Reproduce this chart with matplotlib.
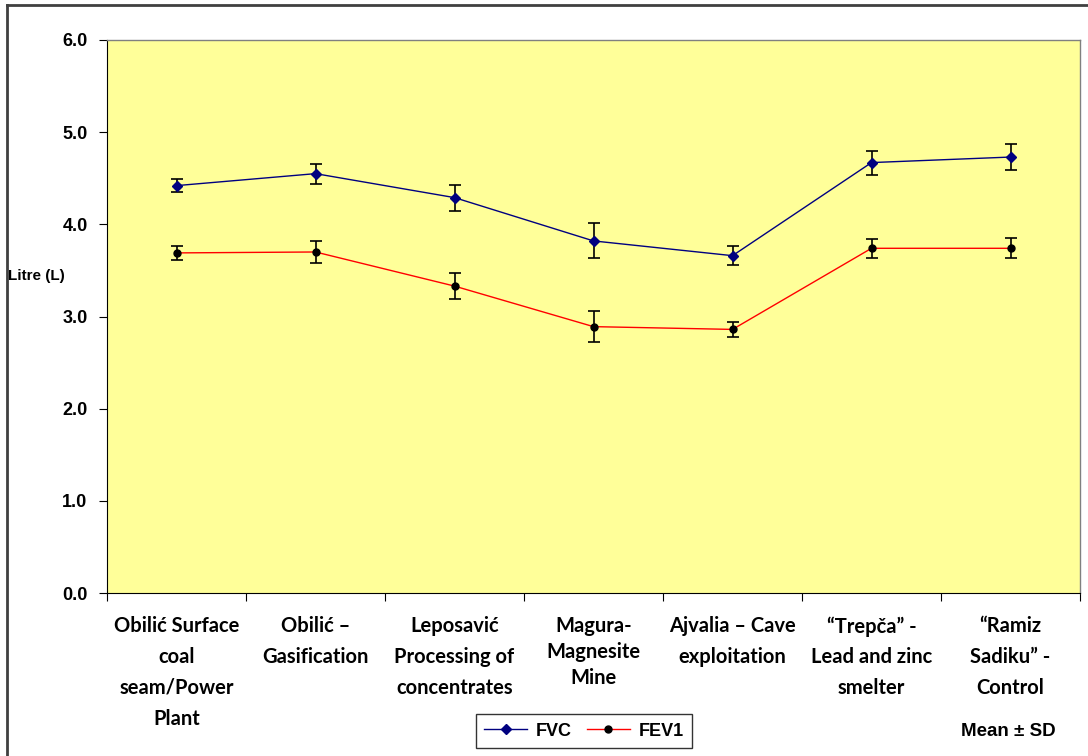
import matplotlib
matplotlib.use("Agg")
import matplotlib.pyplot as plt
from matplotlib.lines import Line2D
import numpy as np

# data
sites = ["Obilić Surface\ncoal\nseam/Power\nPlant",
         "Obilić –\nGasification",
         "Leposavić\nProcessing of\nconcentrates",
         "Magura-\nMagnesite\nMine",
         "Ajvalia – Cave\nexploitation",
         "“Trepča” -\nLead and zinc\nsmelter",
         "“Ramiz\nSadiku” -\nControl"]
fvc_mean = [4.42, 4.55, 4.29, 3.82, 3.66, 4.67, 4.73]
fvc_sd = [0.07, 0.11, 0.14, 0.19, 0.10, 0.13, 0.14]
fev1_mean = [3.69, 3.70, 3.33, 2.89, 2.86, 3.74, 3.74]
fev1_sd = [0.08, 0.12, 0.14, 0.17, 0.08, 0.10, 0.11]
yticks = [0.0, 1.0, 2.0, 3.0, 4.0, 5.0, 6.0]

fig = plt.figure(figsize=(10.88, 7.56), dpi=100)
ax = fig.add_axes([107/1088, 1 - 593/756, (1080 - 107)/1088, (593 - 40)/756])
ax.set_facecolor("#ffff99")

x = np.arange(len(sites))

# error bars first, then lines on top
ax.errorbar(x, fvc_mean, yerr=fvc_sd, fmt="none", ecolor="black",
            elinewidth=1.2, capsize=4.5, capthick=1.2, zorder=2)
ax.errorbar(x, fev1_mean, yerr=fev1_sd, fmt="none", ecolor="black",
            elinewidth=1.2, capsize=4.5, capthick=1.2, zorder=2)
ax.plot(x, fvc_mean, color="#000080", lw=1, marker="D", ms=5,
        mfc="#000080", mec="#000080", label="FVC", zorder=3)
ax.plot(x, fev1_mean, color="#ff0000", lw=1, marker="o", ms=5,
        mfc="black", mec="black", label="FEV1", zorder=3)

ax.set_xlim(-0.5, len(sites) - 0.5)
ax.set_ylim(0, 6)
ax.set_yticks(yticks)
ax.set_yticklabels([f"{v:.1f}" for v in yticks], fontsize=13,
                   fontweight="bold", family="Liberation Sans")

# category labels centred, boundary ticks
ax.set_xticks(np.arange(len(sites) + 1) - 0.5)
ax.set_xticklabels([])
ax.tick_params(axis="x", direction="out", length=6, width=0.8)
ax.tick_params(axis="y", direction="out", length=6, width=0.8, pad=8)
for i, s in enumerate(sites):
    ls = 1.38 if s.startswith("Magura") else 1.68
    ax.text(i, -0.25, s, ha="center", va="top", fontsize=14.5,
            fontweight="bold", family="Lato", linespacing=ls,
            transform=ax.transData, clip_on=False)

for side in ["top", "right"]:
    ax.spines[side].set_color("#808080")
    ax.spines[side].set_linewidth(1)
for side in ["left", "bottom"]:
    ax.spines[side].set_color("black")

fig.text(8/1088, 1 - 276/756, "Litre (L)", fontsize=11, fontweight="bold",
         family="Liberation Sans", va="center", ha="left")

leg = fig.legend(loc="center", bbox_to_anchor=(584/1088, 1 - 731/756),
                 ncol=2, frameon=True, fancybox=False, edgecolor="black",
                 prop={"family": "Liberation Sans", "weight": "bold", "size": 13},
                 handlelength=2.4, columnspacing=0.8, handletextpad=0.5,
                 borderpad=0.45)
leg.get_frame().set_linewidth(1)

fig.text(1008/1088, 1 - 731/756, "Mean ± SD", fontsize=13.5, fontweight="bold",
         family="Liberation Sans", ha="center", va="center")

# outer chart frame
fig.add_artist(Line2D([7/1088, 7/1088], [0, 1 - 5/756], color="#404040", lw=2,
                      transform=fig.transFigure))
fig.add_artist(Line2D([7/1088, 1], [1 - 5/756, 1 - 5/756], color="#404040", lw=2,
                      transform=fig.transFigure))

fig.savefig("out.png", dpi=100)
